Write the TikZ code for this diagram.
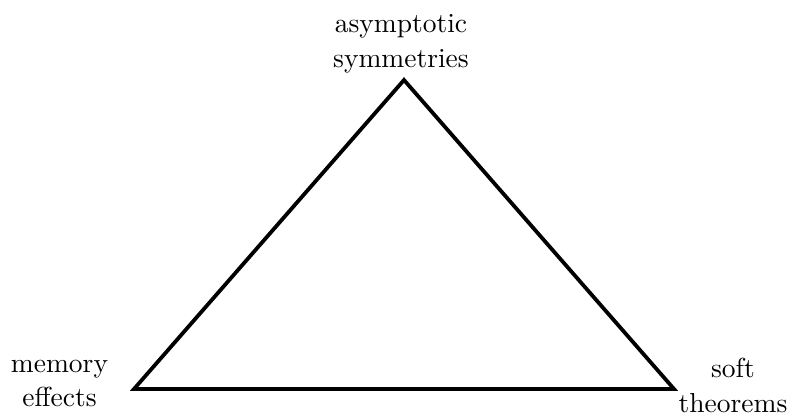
\documentclass[tikz,border=0pt]{standalone}
\usepackage{fontspec}
\begin{document}
\begin{tikzpicture}[x=1pt,y=-1pt,
  lbl/.style={align=center,inner sep=0pt,scale=2.75,font=\fontsize{10}{12.7}\selectfont},
  edge/.style={line width=3.8pt,line join=miter}]
\useasboundingbox (0,0) rectangle (790,416);
\coordinate (T) at (404,80);
\coordinate (L) at (134,389);
\coordinate (R) at (674,389);
\draw[edge] (T) -- (L) -- (R) -- cycle;
\node[lbl] (top) at (401,44) {asymptotic\\symmetries};
\node[lbl] (left) at (59.5,383.5) {memory\\effects};
\node[lbl] (right) at (733,385) {soft\\theorems};
\end{tikzpicture}
\end{document}
